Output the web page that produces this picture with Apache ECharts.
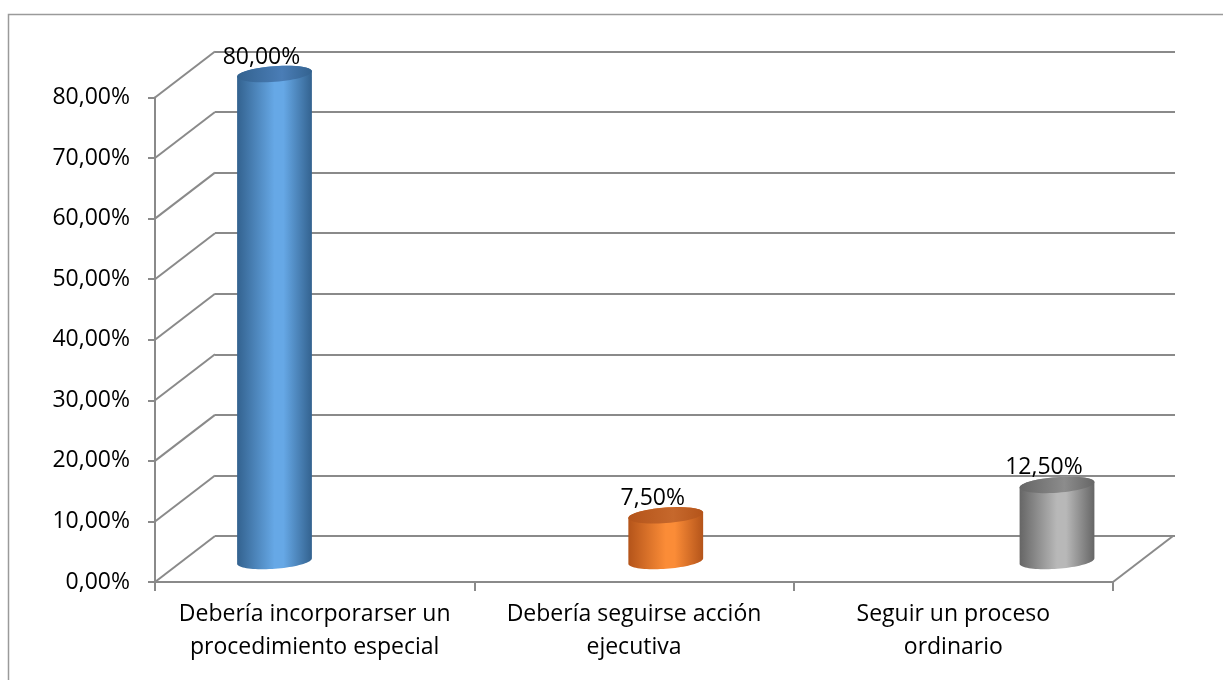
<!DOCTYPE html>
<html>
<head>
<meta charset="utf-8">
<style>
  html, body { margin: 0; padding: 0; background: #fff; }
  #chart { width: 1223px; height: 680px; }
</style>
<script src="https://cdn.jsdelivr.net/npm/echarts@6/dist/echarts.min.js"></script>
</head>
<body>
<div id="chart"></div>
<script>
// Respuestas (porcentaje)
const categories = [
  'Debería incorporarser un\nprocedimiento especial',
  'Debería seguirse acción\nejecutiva',
  'Seguir un proceso\nordinario'
];
const values = [80.0, 7.5, 12.5];
const yTicks = [0, 10, 20, 30, 40, 50, 60, 70, 80];

// Cylinder shading: [edge, centre, top]
const palette = [
  ['#33628f', '#66a8e6', '#4a7db6'],
  ['#b4541a', '#fb8c37', '#c6682c'],
  ['#666666', '#b8b8b8', '#8c8c8c']
];

const FONT = 'Open Sans';
const FONT_SIZE = 23;
const GRID_COLOR = '#8a8a8a';
// Depth offset of the back wall relative to the front axis plane
const DX = 60, DY = -46;

const front = { left: 155, right: 110, top: 97.5, bottom: 98 };
const back = {
  left: front.left + DX, right: front.right - DX - 2,
  top: front.top + DY, bottom: front.bottom - DY
};

const fmt = v => v.toFixed(2).replace('.', ',') + '%';

function ellipse(cx, cy, rx, ry, rot, t0, t1, n) {
  const pts = [];
  const c = Math.cos(rot), s = Math.sin(rot);
  for (let k = 0; k <= n; k++) {
    const t = t0 + (t1 - t0) * k / n;
    const x = rx * Math.cos(t), y = ry * Math.sin(t);
    pts.push([cx + x * c - y * s, cy + x * s + y * c]);
  }
  return pts;
}

const chart = echarts.init(document.getElementById('chart'), null, { renderer: 'canvas' });

chart.setOption({
  animation: false,
  backgroundColor: '#ffffff',
  graphic: [{
    type: 'rect', silent: true, z: -10,
    shape: { x: 8.5, y: 14.5, width: 1240, height: 700 },
    style: { fill: 'none', stroke: '#9a9a9a', lineWidth: 1.5 }
  }],
  grid: [
    { left: front.left, right: front.right, top: front.top, bottom: front.bottom },
    { left: back.left, right: back.right, top: back.top, bottom: back.bottom },
    { left: 274.5, right: 166, top: 74, bottom: 119 }
  ],
  xAxis: [
    {
      gridIndex: 0, type: 'category', data: categories, boundaryGap: true,
      axisLine: { show: true, lineStyle: { color: GRID_COLOR, width: 2 } },
      axisTick: { show: true, interval: 0, length: 9, alignWithLabel: false, lineStyle: { color: GRID_COLOR, width: 2 } },
      axisLabel: { interval: 0, hideOverlap: false, color: '#000', fontFamily: FONT, fontSize: FONT_SIZE, lineHeight: 33, margin: 16 }
    },
    { gridIndex: 1, type: 'category', data: categories, show: false },
    { gridIndex: 2, type: 'value', min: 0, max: 2, show: false }
  ],
  yAxis: [
    {
      gridIndex: 0, type: 'value', min: 0, max: 80, interval: 10,
      axisLine: { show: true, lineStyle: { color: GRID_COLOR, width: 2 } },
      axisTick: { show: true, length: 7, lineStyle: { color: GRID_COLOR, width: 2 } },
      splitLine: { show: false },
      axisLabel: { color: '#000', fontFamily: FONT, fontSize: FONT_SIZE, margin: 25, formatter: fmt }
    },
    {
      gridIndex: 1, type: 'value', min: 0, max: 80, interval: 10,
      axisLine: { show: false }, axisTick: { show: false }, axisLabel: { show: false },
      splitLine: { show: true, lineStyle: { color: GRID_COLOR, width: 2 } }
    },
    { gridIndex: 2, type: 'value', min: 0, max: 80, show: false }
  ],
  series: [
    {
      // diagonal depth lines from the front axis to the back wall, plus the floor edge
      type: 'custom', xAxisIndex: 0, yAxisIndex: 0, silent: true, z: 1,
      data: yTicks.map(v => [0, v]),
      renderItem: function (params, api) {
        const cs = params.coordSys;
        const y = api.coord([0, api.value(1)])[1];
        const children = [{
          type: 'line',
          shape: { x1: cs.x, y1: y, x2: cs.x + DX, y2: y + DY },
          style: { stroke: GRID_COLOR, lineWidth: 2 }
        }];
        if (api.value(1) === 0) {
          const xr = cs.x + cs.width;
          children.push({
            type: 'line',
            shape: { x1: xr, y1: y, x2: xr + DX, y2: y + DY },
            style: { stroke: GRID_COLOR, lineWidth: 2 }
          });
        }
        return { type: 'group', children: children };
      }
    },
    {
      // cylinders
      type: 'custom', xAxisIndex: 2, yAxisIndex: 2, z: 5, silent: true,
      data: values.map((v, i) => [i, v]),
      renderItem: function (params, api) {
        const i = params.dataIndex;
        const v = api.value(1);
        const topP = api.coord([api.value(0), v]);
        const botP = api.coord([api.value(0), 0]);
        const rx = 37.5, ry = 7.8, rot = -0.075;
        const cols = palette[i];
        const body = ellipse(topP[0], topP[1], rx, ry, rot, Math.PI, 2 * Math.PI, 40)
          .concat(ellipse(botP[0], botP[1], rx, ry, rot, 0, Math.PI, 40));
        const top = ellipse(topP[0], topP[1], rx, ry, rot, 0, 2 * Math.PI, 60);
        return {
          type: 'group',
          children: [
            {
              type: 'polygon', shape: { points: body },
              style: {
                fill: new echarts.graphic.LinearGradient(0, 0, 1, 0, [
                  { offset: 0, color: cols[0] },
                  { offset: 0.5, color: cols[1] },
                  { offset: 0.62, color: cols[1] },
                  { offset: 1, color: cols[0] }
                ])
              }
            },
            {
              type: 'polygon', shape: { points: top },
              style: {
                fill: new echarts.graphic.LinearGradient(0, 0, 1, 0, [
                  { offset: 0, color: cols[0] },
                  { offset: 0.6, color: cols[2] },
                  { offset: 1, color: cols[0] }
                ])
              }
            },
            {
              type: 'text',
              style: {
                x: topP[0] - 13, y: topP[1] - 17,
                text: fmt(v), fill: '#000', fontFamily: FONT, fontSize: FONT_SIZE,
                align: 'center', verticalAlign: 'middle'
              },
              z2: 10
            }
          ]
        };
      }
    }
  ]
});
</script>
</body>
</html>
